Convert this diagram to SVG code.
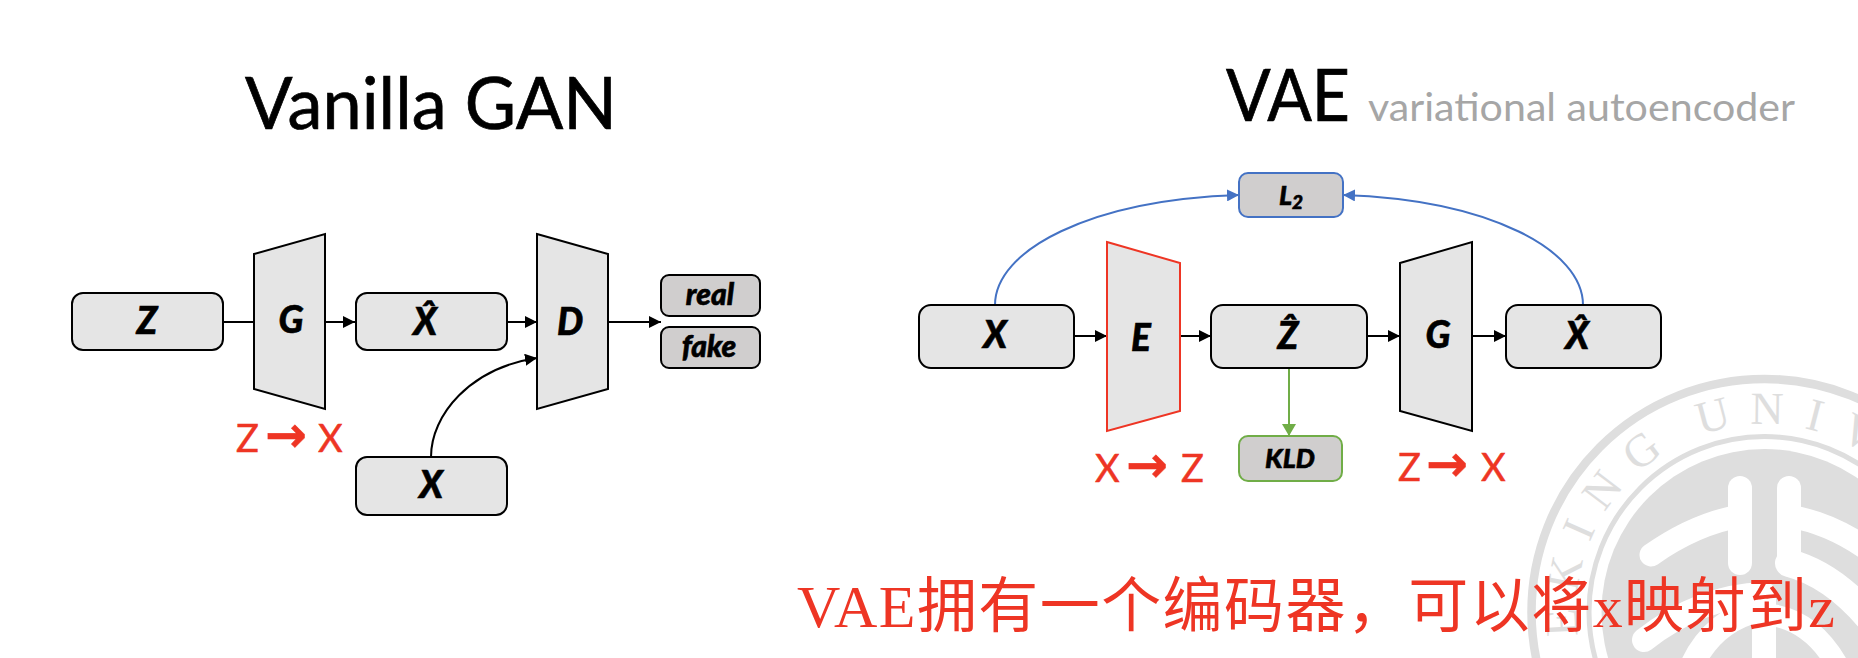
<svg xmlns="http://www.w3.org/2000/svg" width="1858" height="658" viewBox="0 0 1858 658">
<style>
text{font-family:"Lato","Liberation Sans",sans-serif}
.box{fill:#e5e5e5;stroke:#000;stroke-width:2}
.loss{fill:#d0cece;stroke:#000;stroke-width:2}
.lab{font-weight:900;font-style:italic;font-size:37px;text-anchor:middle;fill:#000;stroke:#000;stroke-width:.6}
.small{font-size:30px}
.title{font-size:71px;fill:#000;stroke:#000;stroke-width:.7}
.red{font-size:38px;fill:#ee3524;stroke:#ee3524;stroke-width:.5}
.arw{font-family:"DejaVu Sans",sans-serif;font-weight:700;font-size:50px}
.c{fill:none;stroke-width:2}
.w{fill:none;stroke:#fff;stroke-linecap:round;stroke-linejoin:round}
</style>
<defs>
<marker id="ak" markerUnits="userSpaceOnUse" markerWidth="12" markerHeight="12" refX="12" refY="6" orient="auto"><path d="M0,0L12,6L0,12z" fill="#000"/></marker>
<marker id="ab" markerUnits="userSpaceOnUse" markerWidth="12" markerHeight="12" refX="12" refY="6" orient="auto"><path d="M0,0L12,6L0,12z" fill="#4472c4"/></marker>
<marker id="ag" markerUnits="userSpaceOnUse" markerWidth="12" markerHeight="14" refX="12" refY="7" orient="auto"><path d="M0,0L12,7L0,14z" fill="#70ad47"/></marker>
</defs>
<rect width="1858" height="658" fill="#fff"/>
<g id="watermark">
<circle cx="1764.5" cy="612" r="233" fill="none" stroke="#dedede" stroke-width="8.5"/>
<circle cx="1764.5" cy="612" r="175.5" fill="none" stroke="#dedede" stroke-width="5"/>
<circle cx="1764.5" cy="612" r="163" fill="#dedede"/>
<text font-size="46" fill="#dedede" style="font-family:'Liberation Serif',serif" x="1577.5 1576.7 1589.6 1604.3 1637.2 1680 1700.4 1750.2 1804.1 1838" y="635.8 592.4 542.5 512.2 472.8 440 434.4 423.8 428.1 438.2" rotate="-93 -79 -66 -53 -37.4 0 -14.8 0.7 14.5 28">EKING UNIV</text>
<path class="w" stroke-width="24" d="M1740,488V563"/>
<path class="w" stroke-width="24" d="M1789,488V562"/>
<path class="w" stroke-width="23" d="M1740,516Q1695,524 1651,555"/>
<path class="w" stroke-width="23" d="M1789,516Q1835,524 1875,555"/>
<path class="w" stroke-width="28" d="M1789,563Q1835,575 1875,625"/>
<path class="w" stroke-width="24" d="M1764,594Q1700,596 1644,640"/>
<path class="w" stroke-width="24" d="M1764,594V670"/>
<path class="w" stroke-width="24" d="M1758,610Q1710,622 1690,670"/>
<path class="w" stroke-width="22" d="M1772,615Q1815,622 1840,670"/>
</g>
<g id="titles">
<text class="title" x="245" y="129" textLength="372" lengthAdjust="spacingAndGlyphs">Vanilla GAN</text>
<text class="title" x="1226" y="121" textLength="124" lengthAdjust="spacingAndGlyphs">VAE</text>
<text x="1368" y="121" font-size="39" fill="#a6a6a6" textLength="427" lengthAdjust="spacingAndGlyphs">variational autoencoder</text>
</g>
<g id="connectors">
<path class="c" stroke="#000" d="M223,322H254"/>
<path class="c" stroke="#000" marker-end="url(#ak)" d="M325,322H355"/>
<path class="c" stroke="#000" marker-end="url(#ak)" d="M507,322H537"/>
<path class="c" stroke="#000" marker-end="url(#ak)" d="M608,322H661"/>
<path class="c" stroke="#000" marker-end="url(#ak)" d="M431,457C431,415 470,368 537,358"/>
<path class="c" stroke="#000" marker-end="url(#ak)" d="M1074,336H1107"/>
<path class="c" stroke="#000" marker-end="url(#ak)" d="M1180,336H1211"/>
<path class="c" stroke="#000" marker-end="url(#ak)" d="M1367,336H1400"/>
<path class="c" stroke="#000" marker-end="url(#ak)" d="M1472,336H1506"/>
<path class="c" stroke="#70ad47" stroke-width="1.5" marker-end="url(#ag)" d="M1289,368V436"/>
<path class="c" stroke="#4472c4" stroke-width="1.6" marker-end="url(#ab)" d="M995,305C995,250 1090,200 1239,195"/>
<path class="c" stroke="#4472c4" stroke-width="1.6" marker-end="url(#ab)" d="M1583,305C1583,250 1490,200 1343,195"/>
</g>
<g id="gan-z"><rect class="box" x="72" y="293" width="151" height="57" rx="11"/><text class="lab" x="147" y="334">Z</text></g>
<g id="gan-g"><path class="box" d="M254,254L325,234V409L254,389z"/><text class="lab" x="291" y="333">G</text></g>
<g id="gan-xhat"><rect class="box" x="356" y="293" width="151" height="57" rx="11"/><text class="lab" x="425" y="335">X̂</text></g>
<g id="gan-d"><path class="box" d="M537,234L608,254V389L537,409z"/><text class="lab" x="570" y="335">D</text></g>
<g id="gan-real"><rect class="loss" x="661" y="275" width="99" height="41" rx="8"/><text class="lab small" x="710" y="305">real</text></g>
<g id="gan-fake"><rect class="loss" x="661" y="327" width="99" height="41" rx="8"/><text class="lab small" x="709" y="357">fake</text></g>
<g id="gan-x"><rect class="box" x="356" y="457" width="151" height="58" rx="11"/><text class="lab" x="431" y="498">X</text></g>
<text id="gan-map" class="red" y="452"><tspan x="236">Z</tspan><tspan class="arw" x="265">→</tspan><tspan x="318">X</tspan></text>
<g id="vae-l2"><rect x="1239" y="173" width="104" height="44" rx="9" fill="#d0cece" stroke="#4472c4" stroke-width="2"/><text class="lab small" x="1291" y="205" style="font-size:27px">L<tspan font-size="19" dy="4">2</tspan></text></g>
<g id="vae-x"><rect class="box" x="919" y="305" width="155" height="63" rx="12"/><text class="lab" x="995" y="348">X</text></g>
<g id="vae-e"><path d="M1107,242L1180,263V411L1107,431z" fill="#e5e5e5" stroke="#ee3524" stroke-width="2"/><text class="lab" x="1141" y="351">E</text></g>
<g id="vae-zhat"><rect class="box" x="1211" y="305" width="156" height="63" rx="12"/><text class="lab" x="1288" y="349">Ẑ</text></g>
<g id="vae-g"><path class="box" d="M1400,263L1472,242V431L1400,411z"/><text class="lab" x="1438" y="348">G</text></g>
<g id="vae-xhat"><rect class="box" x="1506" y="305" width="155" height="63" rx="12"/><text class="lab" x="1577" y="349">X̂</text></g>
<g id="vae-kld"><rect x="1239" y="436" width="103" height="45" rx="9" fill="#d0cece" stroke="#70ad47" stroke-width="2"/><text class="lab small" x="1290" y="468" style="font-size:27px">KLD</text></g>
<text id="vae-enc-map" class="red" y="482"><tspan x="1095">X</tspan><tspan class="arw" x="1126">→</tspan><tspan x="1181">Z</tspan></text>
<text id="vae-dec-map" class="red" y="481"><tspan x="1398">Z</tspan><tspan class="arw" x="1426">→</tspan><tspan x="1481">X</tspan></text>
<text id="note" x="797" y="627" font-size="60" fill="#ee3524" textLength="1038" lengthAdjust="spacing" style="font-family:'Liberation Serif','Noto Sans CJK SC',serif">VAE拥有一个编码器，可以将x映射到z</text>
</svg>
